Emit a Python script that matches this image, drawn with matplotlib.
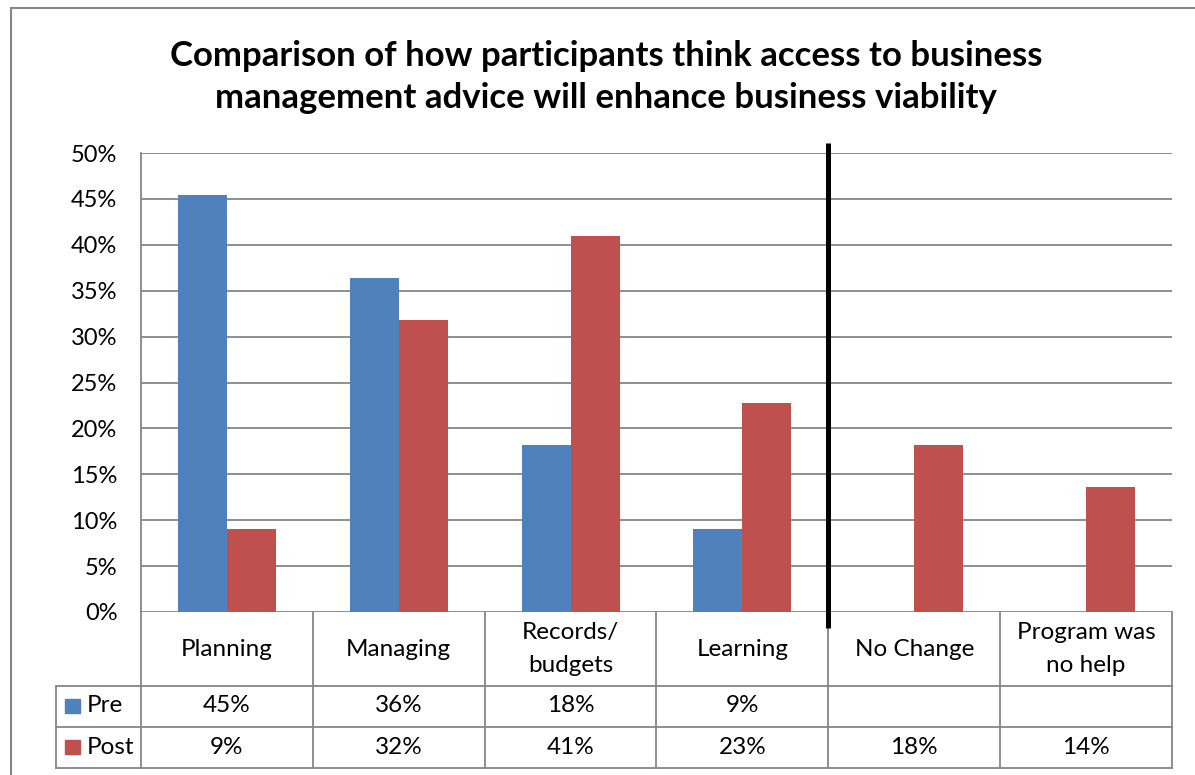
import matplotlib
matplotlib.use("Agg")
import matplotlib.pyplot as plt
from matplotlib.patches import Rectangle
from matplotlib.lines import Line2D
import numpy as np

plt.rcParams['font.family'] = ['Lato', 'DejaVu Sans']

title = "Comparison of how participants think access to business\nmanagement advice will enhance business viability"
categories = ["Planning", "Managing", "Records/\nbudgets", "Learning", "No Change", "Program was\nno help"]
series_names = ["Pre", "Post"]
pre = [45.45, 36.36, 18.18, 9.09, None, None]
post = [9.09, 31.82, 40.91, 22.73, 18.18, 13.64]
y_ticks = [0, 5, 10, 15, 20, 25, 30, 35, 40, 45, 50]

BLUE = "#4F81BD"
RED = "#C0504D"
GRID = "#868686"
W, H = 1195, 775

fig = plt.figure(figsize=(W / 100, H / 100), dpi=100)

# plot area in pixel terms
px_l, px_r, px_t, px_b = 141, 1172, 153, 612
ax = fig.add_axes([px_l / W, 1 - px_b / H, (px_r - px_l) / W, (px_b - px_t) / H])

n = len(categories)
x = np.arange(n)
bw = 0.285
pre_vals = [np.nan if v is None else v for v in pre]
ax.bar(x - bw / 2, pre_vals, width=bw, color=BLUE, zorder=3)
ax.bar(x + bw / 2, post, width=bw, color=RED, zorder=3)

ax.set_xlim(-0.5, n - 0.5)
ax.set_ylim(0, 50)
ax.set_yticks(y_ticks)
ax.set_yticklabels([f"{t}%" for t in y_ticks], fontsize=17, color="#000000")
ax.tick_params(axis='y', length=0, pad=17)
ax.set_xticks([])
ax.yaxis.grid(True, color=GRID, lw=1.3, zorder=0)
for s in ["top", "right", "bottom"]:
    ax.spines[s].set_visible(False)
ax.spines["left"].set_color(GRID)
ax.spines["left"].set_linewidth(1.3)

# data table below the plot area
ph = px_b - px_t
def yf(py):
    return (px_b - py) / ph

cat_w_px = (px_r - px_l) / n
x_leg = -0.5 - (px_l - 56) / cat_w_px
tr = ax.get_xaxis_transform()
lk = dict(color=GRID, lw=1.3, transform=tr, clip_on=False, zorder=4)

ax.add_line(Line2D([-0.5, n - 0.5], [yf(686)] * 2, **lk))
ax.add_line(Line2D([x_leg, n - 0.5], [yf(727)] * 2, **lk))
ax.add_line(Line2D([x_leg, n - 0.5], [yf(768)] * 2, **lk))
ax.add_line(Line2D([x_leg, -0.5], [yf(686)] * 2, **lk))
ax.add_line(Line2D([x_leg, x_leg], [yf(686), yf(768)], **lk))
for b in np.arange(n + 1) - 0.5:
    ax.add_line(Line2D([b, b], [0, yf(768)], **lk))

fs = 17.5
for i, c in enumerate(categories):
    ax.text(i, yf(649), c, transform=tr, ha='center', va='center', fontsize=fs,
            linespacing=1.65)
    if pre[i] is not None:
        ax.text(i, yf(706), f"{pre[i]:.0f}%", transform=tr, ha='center', va='center', fontsize=fs)
    ax.text(i, yf(747), f"{post[i]:.0f}%", transform=tr, ha='center', va='center', fontsize=fs)

# legend keys inside the table
for name, col, yc in [(series_names[0], BLUE, 706), (series_names[1], RED, 747)]:
    fig.patches.append(Rectangle((65 / W, 1 - (yc + 7) / H), 15 / W, 14 / H,
                                 transform=fig.transFigure, color=col))
    fig.text(87 / W, 1 - yc / H, name, ha='left', va='center', fontsize=fs)

# divider between the two groups of categories
ax.add_line(Line2D([3.5, 3.5], [yf(143), yf(628)], color="black", lw=3.6,
                   transform=tr, clip_on=False, zorder=6, solid_capstyle='butt'))

fig.text(606 / W, 1 - 77 / H, title, ha='center', va='center', fontsize=25,
         fontweight='bold', linespacing=1.35)

# chart border
fig.patches.append(Rectangle((11 / W, -0.1), 1.2, 1.1 - 8 / H, transform=fig.transFigure,
                             fill=False, edgecolor=GRID, lw=1.5))

fig.savefig("out.png", dpi=100)
